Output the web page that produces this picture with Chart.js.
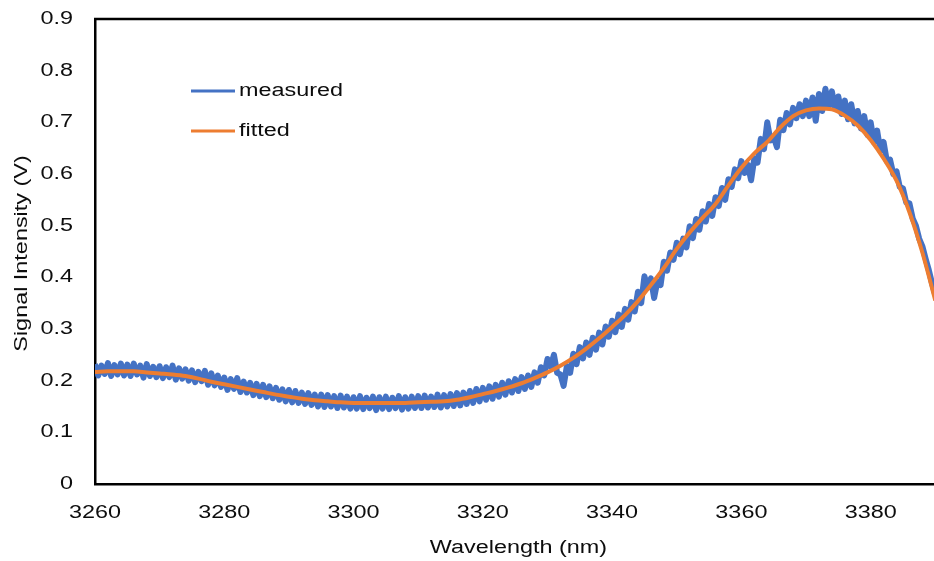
<!DOCTYPE html>
<html>
<head>
<meta charset="utf-8">
<script src="https://cdn.jsdelivr.net/npm/chart.js@4.4.0/dist/chart.umd.min.js"></script>
<style>
  html, body { margin: 0; padding: 0; background: #fff; overflow: hidden; }
  canvas { display: block; }
</style>
</head>
<body>
<canvas id="spectrum" width="934" height="561"></canvas>
<script>
// signal vs wavelength, measured trace + fitted curve

const seriesNames = ['measured', 'fitted'];
const xTitle = 'Wavelength (nm)';
const yTitle = 'Signal Intensity (V)';
const xTicks = [3260, 3280, 3300, 3320, 3340, 3360, 3380];
const yTicks = [0, 0.1, 0.2, 0.3, 0.4, 0.5, 0.6, 0.7, 0.8, 0.9];

// measured samples, 0.5 nm apart starting at 3260 nm (noisy trace)
const measuredStart = 3260;
const measuredStep = 0.5;
const measured = [
  0.232, 0.210, 0.229, 0.213, 0.234, 0.209, 0.230, 0.212, 0.233, 0.210,
  0.231, 0.209, 0.233, 0.212, 0.229, 0.206, 0.232, 0.209, 0.227, 0.207,
  0.228, 0.205, 0.226, 0.207, 0.229, 0.202, 0.224, 0.204, 0.222, 0.200,
  0.220, 0.197, 0.217, 0.199, 0.219, 0.192, 0.214, 0.191, 0.210, 0.188,
  0.206, 0.182, 0.203, 0.184, 0.205, 0.178, 0.198, 0.177, 0.196, 0.172,
  0.194, 0.170, 0.192, 0.168, 0.189, 0.166, 0.186, 0.163, 0.183, 0.160,
  0.182, 0.158, 0.180, 0.157, 0.177, 0.155, 0.176, 0.153, 0.173, 0.150,
  0.173, 0.149, 0.172, 0.150, 0.170, 0.147, 0.171, 0.148, 0.169, 0.146,
  0.168, 0.146, 0.170, 0.145, 0.167, 0.147, 0.169, 0.143, 0.168, 0.146,
  0.169, 0.145, 0.167, 0.147, 0.170, 0.144, 0.168, 0.146, 0.169, 0.147,
  0.170, 0.147, 0.171, 0.148, 0.169, 0.149, 0.173, 0.148, 0.172, 0.150,
  0.174, 0.151, 0.176, 0.152, 0.177, 0.155, 0.180, 0.157, 0.184, 0.160,
  0.186, 0.163, 0.189, 0.165, 0.192, 0.169, 0.196, 0.173, 0.199, 0.177,
  0.203, 0.180, 0.207, 0.184, 0.210, 0.188, 0.216, 0.196, 0.226, 0.210,
  0.242, 0.228, 0.250, 0.215, 0.212, 0.190, 0.228, 0.215, 0.252, 0.232,
  0.265, 0.243, 0.274, 0.250, 0.283, 0.260, 0.293, 0.270, 0.305, 0.285,
  0.316, 0.294, 0.328, 0.304, 0.339, 0.318, 0.352, 0.334, 0.372, 0.350,
  0.402, 0.380, 0.398, 0.360, 0.392, 0.385, 0.430, 0.413, 0.448, 0.434,
  0.467, 0.445, 0.475, 0.458, 0.499, 0.476, 0.513, 0.492, 0.528, 0.508,
  0.542, 0.519, 0.555, 0.538, 0.573, 0.550, 0.590, 0.575, 0.609, 0.592,
  0.625, 0.602, 0.618, 0.588, 0.630, 0.622, 0.668, 0.648, 0.700, 0.665,
  0.672, 0.652, 0.705, 0.685, 0.718, 0.696, 0.728, 0.708, 0.735, 0.712,
  0.742, 0.712, 0.748, 0.703, 0.755, 0.722, 0.765, 0.730, 0.760, 0.727,
  0.750, 0.716, 0.742, 0.706, 0.735, 0.698, 0.722, 0.688, 0.712, 0.676,
  0.700, 0.662, 0.684, 0.645, 0.662, 0.625, 0.628, 0.600, 0.605, 0.575,
  0.572, 0.545, 0.543, 0.514, 0.500, 0.475, 0.460, 0.436, 0.414, 0.388,
  0.366
];

// fitted curve, 2 nm apart starting at 3260 nm
const fittedStart = 3260;
const fittedStep = 2;
const fitted = [
  0.217, 0.218, 0.218, 0.218, 0.216, 0.214, 0.212, 0.209, 0.204, 0.198,
  0.193, 0.188, 0.183, 0.178, 0.173, 0.169, 0.165, 0.162, 0.160, 0.158,
  0.157, 0.157, 0.157, 0.157, 0.157, 0.158, 0.159, 0.160, 0.163, 0.168,
  0.174, 0.180, 0.187, 0.195, 0.205, 0.216, 0.229, 0.244, 0.262, 0.282,
  0.304, 0.327, 0.354, 0.385, 0.418, 0.455, 0.487, 0.515, 0.542, 0.578,
  0.612, 0.640, 0.662, 0.690, 0.712, 0.723, 0.727, 0.725, 0.713, 0.694,
  0.666, 0.630, 0.587, 0.526, 0.448, 0.355
];

const blue = '#4472C4';
const orange = '#ED7D31';
const inkColor = '#0d0d0d';
const fontFamily = '"Liberation Sans", Arial, sans-serif';
const textSize = 18;
const textStretch = 1.3; // the original lettering is wide

const measuredPoints = measured.map((v, i) => ({ x: measuredStart + i * measuredStep, y: v }));
const fittedPoints = fitted.map((v, i) => ({ x: fittedStart + i * fittedStep, y: v }));

function wideText(ctx, text, x, y, align, angle) {
  ctx.save();
  ctx.translate(x, y);
  if (angle) ctx.rotate(angle);
  ctx.scale(textStretch, 1);
  ctx.font = textSize + 'px ' + fontFamily;
  ctx.fillStyle = inkColor;
  ctx.textAlign = align;
  ctx.textBaseline = 'middle';
  ctx.fillText(text, 0, 0);
  ctx.restore();
}

// tick labels, titles and legend drawn by hand so the wide lettering fits
const wideLabels = {
  id: 'wideLabels',
  afterDraw(chart) {
    const ctx = chart.ctx;
    const area = chart.chartArea;
    const xs = chart.scales.x;
    const ys = chart.scales.y;

    xs.ticks.forEach(t => wideText(ctx, String(t.value), xs.getPixelForValue(t.value), area.bottom + 29, 'center'));
    ys.ticks.forEach(t => wideText(ctx, String(Number(t.value.toFixed(1))), area.left - 22, ys.getPixelForValue(t.value), 'right'));

    wideText(ctx, xTitle, (area.left + area.right) / 2 + 4, area.bottom + 64, 'center');
    wideText(ctx, yTitle, 22, (area.top + area.bottom) / 2 + 2, 'center', -Math.PI / 2);

    chart.data.datasets.forEach((ds, i) => {
      const y = area.top + 72 + i * 40;
      const x = area.left + 96;
      ctx.save();
      ctx.strokeStyle = ds.borderColor;
      ctx.lineWidth = 3;
      ctx.beginPath();
      ctx.moveTo(x, y);
      ctx.lineTo(x + 44, y);
      ctx.stroke();
      ctx.restore();
      wideText(ctx, ds.label, x + 48, y, 'left');
    });

    // top edge of the plot frame
    ctx.save();
    ctx.strokeStyle = '#000';
    ctx.lineWidth = 2.5;
    ctx.beginPath();
    ctx.moveTo(area.left - 1, area.top);
    ctx.lineTo(area.right, area.top);
    ctx.stroke();
    ctx.restore();
  }
};

new Chart(document.getElementById('spectrum').getContext('2d'), {
  type: 'line',
  data: {
    datasets: [
      {
        label: seriesNames[0],
        data: measuredPoints,
        borderColor: blue,
        borderWidth: 6,
        borderJoinStyle: 'round',
        pointRadius: 0,
        tension: 0,
        order: 2
      },
      {
        label: seriesNames[1],
        data: fittedPoints,
        borderColor: orange,
        borderWidth: 4,
        pointRadius: 0,
        cubicInterpolationMode: 'monotone',
        order: 1
      }
    ]
  },
  options: {
    responsive: false,
    animation: false,
    layout: { padding: { top: 19, right: 0, bottom: 0, left: 0 } },
    plugins: {
      legend: { display: false },
      tooltip: { enabled: false }
    },
    scales: {
      x: {
        type: 'linear',
        min: 3260,
        max: 3389.8,
        afterBuildTicks: scale => { scale.ticks = xTicks.map(v => ({ value: v })); },
        afterFit: scale => { scale.height = 77; },
        grid: { display: false, drawTicks: false },
        border: { display: true, color: '#000', width: 2.5 },
        ticks: { display: false }
      },
      y: {
        min: 0,
        max: 0.9,
        afterBuildTicks: scale => { scale.ticks = yTicks.map(v => ({ value: v })); },
        afterFit: scale => { scale.width = 95; },
        grid: { display: false, drawTicks: false },
        border: { display: true, color: '#000', width: 2.5 },
        ticks: { display: false }
      }
    }
  },
  plugins: [wideLabels]
});
</script>
</body>
</html>
